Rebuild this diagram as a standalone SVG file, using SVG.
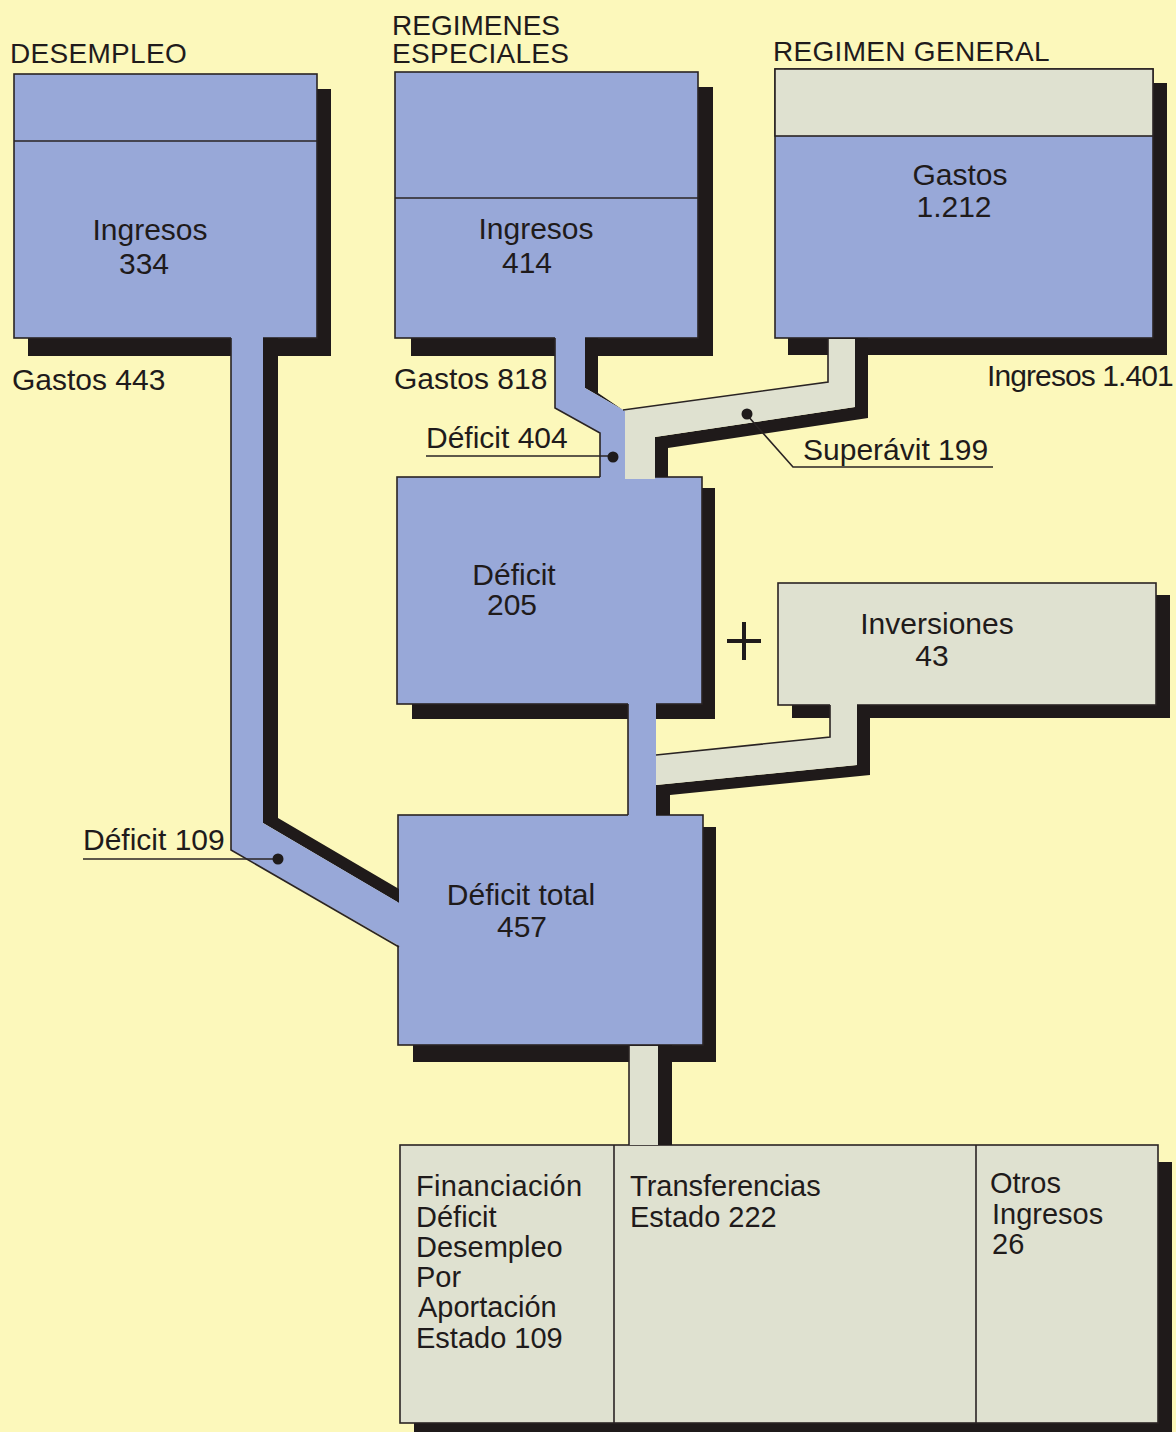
<svg xmlns="http://www.w3.org/2000/svg" width="1176" height="1432" viewBox="0 0 1176 1432">
<style>
.bg{fill:#fcf8bb}
.sh{fill:#1f1a1a}
.blue{fill:#98a8d8}
.grey{fill:#dfe1d0}
.box{stroke:#2a2424;stroke-width:1.6}
.ol{fill:none;stroke:#2a2424;stroke-width:1.6}
text{font-family:"Liberation Sans",Arial,sans-serif;fill:#1f1b1b;font-size:30px}
.c{text-anchor:middle}
.h{font-size:28px}
.b{font-size:29px}
</style>
<rect class="bg" x="0" y="0" width="1176" height="1432"/>

<g id="node-desempleo">
<rect class="sh" x="28" y="89" width="303" height="267"/>
<rect class="blue box" x="14" y="74" width="303" height="264"/>
<line class="ol" x1="14" y1="141" x2="317" y2="141"/>
<text class="c" x="150" y="240">Ingresos</text>
<text class="c" x="144" y="274">334</text>
</g>

<g id="node-especiales">
<rect class="sh" x="411" y="87" width="302" height="269"/>
<rect class="blue box" x="395" y="72" width="303" height="266"/>
<line class="ol" x1="395" y1="198" x2="698" y2="198"/>
<text class="c" x="536" y="239">Ingresos</text>
<text class="c" x="527" y="273">414</text>
</g>

<g id="node-general">
<rect class="sh" x="788" y="83" width="379" height="272"/>
<rect class="blue box" x="775" y="69" width="378" height="269"/>
<rect class="grey box" x="775" y="69" width="378" height="67"/>
<text class="c" x="960" y="185">Gastos</text>
<text class="c" x="954" y="217">1.212</text>
</g>

<g id="node-deficit205">
<rect class="sh" x="412" y="488" width="303" height="231"/>
<rect class="blue box" x="397" y="477" width="305" height="227"/>
<text class="c" x="514" y="585">Déficit</text>
<text class="c" x="512" y="615">205</text>
</g>

<g id="node-inversiones">
<rect class="sh" x="792" y="595" width="378" height="123"/>
<rect class="grey box" x="778" y="583" width="378" height="122"/>
<text class="c" x="937" y="634">Inversiones</text>
<text class="c" x="932" y="666">43</text>
</g>

<g id="node-deficit-total">
<rect class="sh" x="413" y="827" width="303" height="235"/>
<rect class="blue box" x="398" y="815" width="305" height="230"/>
<text class="c" x="521" y="905">Déficit  total</text>
<text class="c" x="522" y="937">457</text>
</g>

<g id="node-financiacion">
<rect class="sh" x="414" y="1162" width="758" height="280"/>
<rect class="grey box" x="400" y="1145" width="758" height="278"/>
<line class="ol" x1="614" y1="1145" x2="614" y2="1423"/>
<line class="ol" x1="976" y1="1145" x2="976" y2="1423"/>
<text class="b" x="416" y="1196" letter-spacing="0.3">Financiación</text>
<text class="b" x="416" y="1227">Déficit</text>
<text class="b" x="416" y="1257">Desempleo</text>
<text class="b" x="416" y="1287">Por</text>
<text class="b" x="418" y="1317">Aportación</text>
<text class="b" x="416" y="1348">Estado 109</text>
<text class="b" x="630" y="1196">Transferencias</text>
<text class="b" x="630" y="1227">Estado 222</text>
<text class="b" x="990" y="1193">Otros</text>
<text class="b" x="992" y="1224">Ingresos</text>
<text class="b" x="992" y="1254">26</text>
</g>

<g id="connectors">
<polygon class="sh" points="263,338 278,338 278,818 399,889 399,903 263,823"/>
<polygon class="blue" points="231,336 263,336 263,823 401,904 401,947 231,850"/>
<polyline class="ol" points="231,338 231,850 399,947"/>
<polygon class="sh" points="585,338 598,338 598,393 623,410 585,388"/>
<polygon class="blue" points="555,336 585,336 585,388 625,411 625,479 600,479 600,433 555,408"/>
<polyline class="ol" points="555,338 555,408 600,433 600,477"/>
<polygon class="sh" points="855,338 868,338 868,418 668,448 668,477 655,477 655,437 855,407"/>
<polygon class="grey" points="828,339 855,339 855,407 655,437 655,479 625,479 625,410 828,382"/>
<polyline class="ol" points="623,410 828,382 828,338"/>
<polygon class="sh" points="656,785 670,785 670,815 656,815"/>
<polygon class="blue" points="628,703 656,703 656,817 628,817"/>
<line class="ol" x1="628" y1="704" x2="628" y2="815"/>
<polygon class="sh" points="857,705 870,705 870,775 670,795 670,815 656,815 656,785 857,765"/>
<polygon class="grey" points="830,703 857,703 857,765 656,785 656,755 830,737"/>
<polyline class="ol" points="830,705 830,737 656,755"/>
<rect class="sh" x="658" y="1045" width="14" height="100"/>
<rect class="grey" x="629" y="1046" width="29" height="99"/>
<line class="ol" x1="629" y1="1046" x2="629" y2="1145"/>
<line x1="727" y1="641" x2="761" y2="641" stroke="#1f1b1b" stroke-width="4"/>
<line x1="744" y1="622" x2="744" y2="660" stroke="#1f1b1b" stroke-width="4"/>
<line class="ol" x1="426" y1="456" x2="613" y2="456"/>
<circle cx="613" cy="457" r="5.5" fill="#1f1b1b"/>
<polyline class="ol" points="747,415 793,467 993,467"/>
<circle cx="747" cy="414" r="5.5" fill="#1f1b1b"/>
<line class="ol" x1="83" y1="859" x2="278" y2="859"/>
<circle cx="278" cy="859" r="5.5" fill="#1f1b1b"/>
</g>

<g id="labels">
<text class="h" x="10" y="63" letter-spacing="0.3">DESEMPLEO</text>
<text class="h" x="392" y="35">REGIMENES</text>
<text class="h" x="392" y="63" letter-spacing="0.3">ESPECIALES</text>
<text class="h" x="773" y="61" letter-spacing="0.3">REGIMEN GENERAL</text>
<text x="12" y="390">Gastos 443</text>
<text x="394" y="389">Gastos 818</text>
<text x="987" y="386" font-size="29" letter-spacing="-0.9">Ingresos 1.401</text>
<text x="426" y="448">Déficit 404</text>
<text x="803" y="460">Superávit 199</text>
<text x="83" y="850">Déficit 109</text>
</g>
</svg>
